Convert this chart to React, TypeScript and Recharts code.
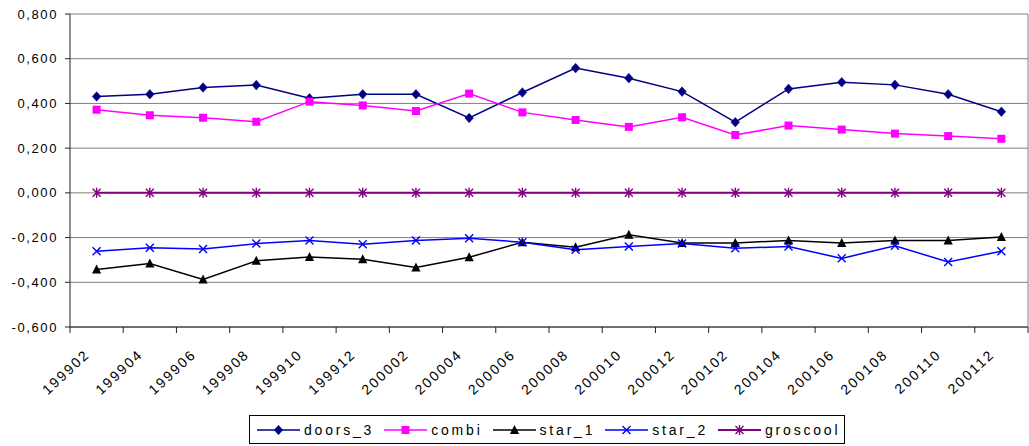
import React from 'react';
import { LineChart, Line, XAxis, YAxis, CartesianGrid, Legend } from 'recharts';

// Monthly periods (every second month)
const categories = [
  '199902', '199904', '199906', '199908', '199910', '199912',
  '200002', '200004', '200006', '200008', '200010', '200012',
  '200102', '200104', '200106', '200108', '200110', '200112',
];

const doors3 = [0.431, 0.441, 0.471, 0.482, 0.423, 0.441, 0.441, 0.335, 0.449, 0.558, 0.513, 0.453, 0.316, 0.465, 0.495, 0.483, 0.441, 0.363];
const combi = [0.372, 0.347, 0.336, 0.318, 0.408, 0.391, 0.366, 0.444, 0.360, 0.326, 0.295, 0.338, 0.259, 0.301, 0.283, 0.265, 0.254, 0.242];
const star1 = [-0.343, -0.316, -0.387, -0.304, -0.287, -0.297, -0.334, -0.288, -0.221, -0.243, -0.187, -0.224, -0.224, -0.213, -0.224, -0.213, -0.213, -0.197];
const star2 = [-0.261, -0.245, -0.251, -0.227, -0.213, -0.230, -0.213, -0.203, -0.221, -0.254, -0.240, -0.227, -0.248, -0.240, -0.293, -0.237, -0.309, -0.261];
const groscool = [0, 0, 0, 0, 0, 0, 0, 0, 0, 0, 0, 0, 0, 0, 0, 0, 0, 0];

const yTicks = [-0.6, -0.4, -0.2, 0, 0.2, 0.4, 0.6, 0.8];

const data = categories.map((period, i) => ({
  period,
  doors_3: doors3[i],
  combi: combi[i],
  star_1: star1[i],
  star_2: star2[i],
  groscool: groscool[i],
}));

const FONT = '"Liberation Sans", Arial, sans-serif';
const AXIS = '#222222';
const GRID = '#808080';

type MarkerProps = { cx: number; cy: number; color: string };

const Diamond = ({ cx, cy, color }: MarkerProps) => (
  <path d={`M${cx},${cy - 4.8}L${cx + 4.3},${cy}L${cx},${cy + 4.8}L${cx - 4.3},${cy}Z`} fill={color} stroke={color} strokeWidth={0.5} />
);
const Square = ({ cx, cy, color }: MarkerProps) => (
  <rect x={cx - 4} y={cy - 4} width={8} height={8} fill={color} />
);
const Triangle = ({ cx, cy, color }: MarkerProps) => (
  <path d={`M${cx},${cy - 5}L${cx + 4.6},${cy + 4}L${cx - 4.6},${cy + 4}Z`} fill={color} />
);
const Cross = ({ cx, cy, color }: MarkerProps) => (
  <path d={`M${cx - 4},${cy - 4}L${cx + 4},${cy + 4}M${cx - 4},${cy + 4}L${cx + 4},${cy - 4}`} stroke={color} strokeWidth={1.4} fill="none" />
);
const Star = ({ cx, cy, color }: MarkerProps) => (
  <path
    d={`M${cx - 4},${cy - 4}L${cx + 4},${cy + 4}M${cx - 4},${cy + 4}L${cx + 4},${cy - 4}M${cx},${cy - 5}L${cx},${cy + 5}`}
    stroke={color}
    strokeWidth={1.4}
    fill="none"
  />
);

const seriesDefs = [
  { key: 'doors_3', color: '#000080', Marker: Diamond, width: 1.5 },
  { key: 'combi', color: '#FF00FF', Marker: Square, width: 1.5 },
  { key: 'star_1', color: '#000000', Marker: Triangle, width: 1.5 },
  { key: 'star_2', color: '#0000FF', Marker: Cross, width: 1.5 },
  { key: 'groscool', color: '#800080', Marker: Star, width: 2 },
];

const fmtY = (v: number) => v.toFixed(3).replace('.', ',');

const YTick = (props: any) => {
  const { x, y, payload } = props;
  return (
    <g>
      <line x1={x - 5} y1={y} x2={x} y2={y} stroke={AXIS} strokeWidth={1} />
      <text x={x - 12} y={y} dy={4.6} textAnchor="end" fontFamily={FONT} fontSize={13} letterSpacing={1.6} fill="#000">
        {fmtY(payload.value)}
      </text>
    </g>
  );
};

const XTick = (props: any) => {
  const { x, y, payload, index } = props;
  const half = payload.offset || 0;
  const ax = x - 6;
  const ay = y + 28.5;
  return (
    <g>
      <line x1={x - half} y1={y} x2={x - half} y2={y + 6} stroke={AXIS} strokeWidth={1} />
      {index === categories.length - 1 && (
        <line x1={x + half} y1={y} x2={x + half} y2={y + 6} stroke={AXIS} strokeWidth={1} />
      )}
      <text
        x={ax}
        y={ay}
        textAnchor="end"
        transform={`rotate(-43, ${ax}, ${ay})`}
        fontFamily={FONT}
        fontSize={14}
        letterSpacing={2}
        fill="#000"
      >
        {payload.value}
      </text>
    </g>
  );
};

const LegendBox = () => (
  <div
    style={{
      display: 'inline-flex',
      alignItems: 'center',
      height: 29,
      boxSizing: 'border-box',
      border: '1px solid #000',
      background: '#fff',
      paddingLeft: 7,
      paddingRight: 4,
      fontFamily: FONT,
      fontSize: 14,
      letterSpacing: 2.8,
      color: '#000',
      whiteSpace: 'nowrap',
    }}
  >
    {seriesDefs.map(({ key, color, Marker, width }, i) => (
      <span
        key={key}
        style={{ display: 'inline-flex', alignItems: 'center', marginRight: i === seriesDefs.length - 1 ? 0 : 10 }}
      >
        <svg width={43} height={12} style={{ marginRight: 4 }}>
          <line x1={0} y1={6} x2={43} y2={6} stroke={color} strokeWidth={width} />
          <Marker cx={21.5} cy={6} color={color} />
        </svg>
        <span>{key}</span>
      </span>
    ))}
  </div>
);

export default function App() {
  return (
    <div style={{ position: 'absolute', left: 0, top: 0, background: '#fff' }}>
      <LineChart width={1029} height={446} data={data} margin={{ top: 14, right: 0, bottom: 0, left: 0 }}>
        <CartesianGrid horizontal vertical={false} stroke={GRID} strokeWidth={1} />
        <XAxis
          dataKey="period"
          scale="band"
          interval={0}
          height={90}
          tickSize={0}
          tickMargin={0}
          tickLine={false}
          axisLine={{ stroke: AXIS, strokeWidth: 1 }}
          tick={<XTick />}
        />
        <YAxis
          domain={[-0.6, 0.8]}
          ticks={yTicks}
          width={70}
          tickSize={0}
          tickMargin={0}
          tickLine={false}
          axisLine={{ stroke: AXIS, strokeWidth: 1 }}
          tick={<YTick />}
          interval={0}
        />
        <YAxis yAxisId="frame" orientation="right" width={1} tick={false} tickLine={false} axisLine={{ stroke: GRID, strokeWidth: 1 }} />
        <Legend
          verticalAlign="bottom"
          content={<LegendBox />}
          wrapperStyle={{ left: 249, top: 415, bottom: 'auto', width: 'auto', height: 29 }}
        />
        {seriesDefs.map(({ key, color, Marker, width }) => (
          <Line
            key={key}
            type="linear"
            dataKey={key}
            stroke={color}
            strokeWidth={width}
            isAnimationActive={false}
            dot={(p: any) => <Marker key={`${key}-${p.index}`} cx={p.cx} cy={p.cy} color={color} />}
            activeDot={false}
          />
        ))}
      </LineChart>
    </div>
  );
}
